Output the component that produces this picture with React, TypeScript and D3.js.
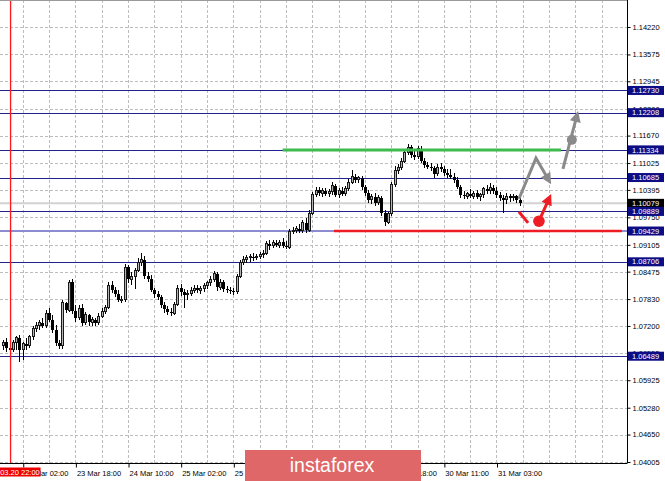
import React, { useEffect, useRef } from 'react';
import * as d3 from 'd3';

// EURUSD H1 candles, 20 Mar 2020 22:00 -> 31 Mar 2020
const firstOpen = 1.0675;

const highs = [
  1.0687, 1.0692, 1.0675, 1.0687, 1.0696, 1.0699, 1.0682, 1.0692, 1.0699, 1.0720,
  1.0729, 1.0734, 1.0739, 1.0757, 1.0762, 1.0746, 1.0722, 1.0687, 1.0781, 1.0776,
  1.0828, 1.0830, 1.0769, 1.0769, 1.0771, 1.0753, 1.0748, 1.0741, 1.0739, 1.0750,
  1.0762, 1.0769, 1.0823, 1.0826, 1.0811, 1.0804, 1.0790, 1.0866, 1.0863, 1.0847,
  1.0856, 1.0880, 1.0891, 1.0884, 1.0847, 1.0840, 1.0809, 1.0802, 1.0793, 1.0776,
  1.0767, 1.0762, 1.0776, 1.0816, 1.0819, 1.0807, 1.0804, 1.0811, 1.0816, 1.0816,
  1.0814, 1.0821, 1.0826, 1.0837, 1.0849, 1.0847, 1.0830, 1.0828, 1.0814, 1.0811,
  1.0809, 1.0842, 1.0875, 1.0884, 1.0887, 1.0889, 1.0891, 1.0889, 1.0894, 1.0898,
  1.0920, 1.0922, 1.0922, 1.0922, 1.0922, 1.0927, 1.0920, 1.0948, 1.0952, 1.0955,
  1.0959, 1.0969, 1.0974, 1.0992, 1.1035, 1.1046, 1.1046, 1.1044, 1.1044, 1.1042,
  1.1058, 1.1053, 1.1044, 1.1046, 1.1049, 1.1065, 1.1086, 1.1077, 1.1072, 1.1072,
  1.1051, 1.1039, 1.1030, 1.1032, 1.1028, 1.1025, 1.0992, 1.0988, 1.1058, 1.1096,
  1.1100, 1.1114, 1.1133, 1.1147, 1.1145, 1.1133, 1.1143, 1.1143, 1.1114, 1.1105,
  1.1103, 1.1096, 1.1100, 1.1103, 1.1096, 1.1089, 1.1089, 1.1079, 1.1070, 1.1051,
  1.1037, 1.1035, 1.1042, 1.1037, 1.1039, 1.1032, 1.1046, 1.1051, 1.1056, 1.1051,
  1.1046, 1.1035, 1.1028, 1.1032, 1.1030, 1.1030, 1.1028, 1.1023,
];

const lows = [
  1.0664, 1.0659, 1.0645, 1.0659, 1.0664, 1.0635, 1.0640, 1.0664, 1.0668, 1.0687,
  1.0706, 1.0710, 1.0715, 1.0715, 1.0729, 1.0703, 1.0673, 1.0666, 1.0666, 1.0750,
  1.0753, 1.0748, 1.0729, 1.0734, 1.0720, 1.0722, 1.0720, 1.0720, 1.0720, 1.0722,
  1.0739, 1.0748, 1.0760, 1.0797, 1.0788, 1.0776, 1.0774, 1.0776, 1.0821, 1.0816,
  1.0807, 1.0847, 1.0861, 1.0830, 1.0823, 1.0800, 1.0786, 1.0781, 1.0762, 1.0750,
  1.0746, 1.0743, 1.0746, 1.0767, 1.0790, 1.0762, 1.0781, 1.0790, 1.0797, 1.0797,
  1.0795, 1.0800, 1.0807, 1.0814, 1.0823, 1.0802, 1.0804, 1.0800, 1.0797, 1.0795,
  1.0793, 1.0795, 1.0833, 1.0863, 1.0868, 1.0870, 1.0873, 1.0875, 1.0877, 1.0880,
  1.0887, 1.0898, 1.0903, 1.0905, 1.0903, 1.0903, 1.0901, 1.0901, 1.0936, 1.0938,
  1.0938, 1.0938, 1.0938, 1.0941, 1.0981, 1.1023, 1.1025, 1.1023, 1.1025, 1.1023,
  1.1028, 1.1023, 1.1021, 1.1025, 1.1025, 1.1037, 1.1053, 1.1056, 1.1056, 1.1039,
  1.1025, 1.1009, 1.1006, 1.1002, 1.1004, 1.0978, 1.0955, 1.0960, 1.0978, 1.1046,
  1.1077, 1.1086, 1.1103, 1.1121, 1.1114, 1.1110, 1.1112, 1.1103, 1.1091, 1.1089,
  1.1084, 1.1068, 1.1072, 1.1082, 1.1072, 1.1068, 1.1065, 1.1056, 1.1042, 1.1021,
  1.1018, 1.1018, 1.1021, 1.1018, 1.1018, 1.1014, 1.1021, 1.1030, 1.1030, 1.1030,
  1.1021, 1.1014, 1.0985, 1.1006, 1.1011, 1.1014, 1.1009, 1.1002,
];

const closes = [
  1.0682, 1.0668, 1.0664, 1.0680, 1.0692, 1.0664, 1.0678, 1.0673, 1.0696, 1.0715,
  1.0722, 1.0727, 1.0720, 1.0750, 1.0734, 1.0710, 1.0680, 1.0673, 1.0774, 1.0757,
  1.0823, 1.0755, 1.0739, 1.0762, 1.0727, 1.0746, 1.0729, 1.0734, 1.0727, 1.0743,
  1.0755, 1.0764, 1.0816, 1.0804, 1.0795, 1.0781, 1.0783, 1.0858, 1.0830, 1.0837,
  1.0851, 1.0870, 1.0875, 1.0837, 1.0830, 1.0804, 1.0795, 1.0788, 1.0769, 1.0760,
  1.0753, 1.0750, 1.0771, 1.0809, 1.0800, 1.0793, 1.0797, 1.0804, 1.0809, 1.0804,
  1.0809, 1.0814, 1.0821, 1.0830, 1.0842, 1.0811, 1.0823, 1.0807, 1.0804, 1.0802,
  1.0800, 1.0837, 1.0868, 1.0877, 1.0880, 1.0882, 1.0880, 1.0884, 1.0887, 1.0891,
  1.0913, 1.0908, 1.0915, 1.0910, 1.0917, 1.0908, 1.0905, 1.0941, 1.0945, 1.0948,
  1.0943, 1.0962, 1.0945, 1.0985, 1.1028, 1.1039, 1.1032, 1.1037, 1.1030, 1.1035,
  1.1049, 1.1028, 1.1037, 1.1030, 1.1042, 1.1058, 1.1070, 1.1063, 1.1068, 1.1046,
  1.1032, 1.1016, 1.1023, 1.1009, 1.1021, 1.0985, 1.0964, 1.0983, 1.1051, 1.1086,
  1.1091, 1.1107, 1.1128, 1.1140, 1.1121, 1.1117, 1.1136, 1.1107, 1.1098, 1.1093,
  1.1091, 1.1077, 1.1093, 1.1089, 1.1079, 1.1075, 1.1070, 1.1063, 1.1046, 1.1028,
  1.1025, 1.1030, 1.1025, 1.1032, 1.1023, 1.1028, 1.1042, 1.1037, 1.1044, 1.1037,
  1.1028, 1.1021, 1.1016, 1.1025, 1.1021, 1.1025, 1.1016, 1.10079,
];

const priceTicks = [
  1.14220, 1.13575, 1.12945, 1.12300, 1.11670, 1.11025, 1.10395, 1.09750, 1.09105,
  1.08475, 1.07830, 1.07200, 1.06555, 1.05925, 1.05280, 1.04650, 1.04005,
];

const timeTickBars = [6, 22, 38, 54, 70, 86, 102, 118, 134, 150];
const timeTickLabels = [
  '23 Mar 02:00', '23 Mar 18:00', '24 Mar 10:00', '25 Mar 02:00', '25 Mar 18:00',
  '26 Mar 10:00', '27 Mar 02:00', '27 Mar 18:00', '30 Mar 11:00', '31 Mar 03:00',
];

const separatorBar = 2.3;
const separatorLabel = '2020.03.20 22:00';

const levelPrices = [1.12730, 1.12208, 1.11334, 1.10685, 1.09889, 1.08706, 1.06489];
const supportPrice = 1.09429;
const bidPrice = 1.10079;

// drawn annotations, [bar, price]
const greenLine: [number, number][] = [[85, 1.11334], [169.6, 1.11334]];
const redLine: [number, number][] = [[100.6, 1.09429], [188.1, 1.09429]];
const grayZigzag: [number, number][] = [[156.8, 1.1018], [162.0, 1.1114], [166.6, 1.1053]];
const grayUp: [number, number][] = [[170.2, 1.1089], [174.8, 1.1225]];
const grayDot: [number, number] = [172.9, 1.1157];
const redDash: [number, number][] = [[156.8, 1.0988], [159.6, 1.0962]];
const redUp: [number, number][] = [[162.9, 1.0966], [166.6, 1.1030]];
const redDot: [number, number] = [162.9, 1.0966];

export default function App() {
  const svgRef = useRef<SVGSVGElement>(null);

  useEffect(() => {
    if (!svgRef.current) return;

    const width = 665;
    const height = 481;
    const plotRight = 627;
    const plotBottom = 463;
    const font = '"Liberation Sans", Arial, sans-serif';

    d3.select(svgRef.current).selectAll('*').remove();

    const svg = d3.select(svgRef.current)
      .attr('width', width)
      .attr('height', height)
      .style('font-family', font);

    const x = d3.scaleLinear().domain([0, 157]).range([3, 3 + 3.29 * 157]);
    const y = d3.scaleLinear().domain([1.04005, 1.14220]).range([462, 27]);

    svg.append('rect').attr('width', width).attr('height', height).attr('fill', '#fff');

    // Grid
    const grid = svg.append('g')
      .attr('stroke', '#bdbdbd')
      .attr('stroke-dasharray', '3,2')
      .attr('shape-rendering', 'crispEdges');

    grid.selectAll('.hgrid')
      .data(priceTicks)
      .enter()
      .append('line')
      .attr('x1', 0)
      .attr('x2', plotRight)
      .attr('y1', d => Math.round(y(d)) + 0.5)
      .attr('y2', d => Math.round(y(d)) + 0.5);

    const gridBars = d3.range(-2, 190, 8);
    grid.selectAll('.vgrid')
      .data(gridBars)
      .enter()
      .append('line')
      .attr('x1', d => Math.round(x(d)) + 0.5)
      .attr('x2', d => Math.round(x(d)) + 0.5)
      .attr('y1', 0)
      .attr('y2', plotBottom);

    // Bid line
    svg.append('line')
      .attr('x1', 0).attr('x2', plotRight)
      .attr('y1', y(bidPrice)).attr('y2', y(bidPrice))
      .attr('stroke', '#d2d2d2')
      .attr('stroke-width', 2);

    // Levels
    svg.append('line')
      .attr('x1', 0).attr('x2', plotRight)
      .attr('y1', y(supportPrice)).attr('y2', y(supportPrice))
      .attr('stroke', '#8c8cd2')
      .attr('stroke-width', 2);

    svg.selectAll('.level')
      .data(levelPrices)
      .enter()
      .append('line')
      .attr('x1', 0)
      .attr('x2', plotRight)
      .attr('y1', d => Math.round(y(d)) + 0.5)
      .attr('y2', d => Math.round(y(d)) + 0.5)
      .attr('stroke', '#23238e')
      .attr('shape-rendering', 'crispEdges');

    // Candles
    const idx = d3.range(closes.length);
    const opens = idx.map(i => (i === 0 ? firstOpen : closes[i - 1]));
    const cx = (i: number) => Math.round(x(i)) + 0.5;
    const candles = svg.append('g').attr('shape-rendering', 'crispEdges');

    candles.selectAll('.wick')
      .data(idx)
      .enter()
      .append('line')
      .attr('x1', cx)
      .attr('x2', cx)
      .attr('y1', i => y(highs[i]))
      .attr('y2', i => y(lows[i]))
      .attr('stroke', '#000');

    candles.selectAll('.body')
      .data(idx)
      .enter()
      .append('rect')
      .attr('x', i => (closes[i] >= opens[i] ? cx(i) - 1 : cx(i) - 1.5))
      .attr('width', i => (closes[i] >= opens[i] ? 2 : 3))
      .attr('y', i => y(Math.max(opens[i], closes[i])))
      .attr('height', i => Math.max(1, Math.abs(y(opens[i]) - y(closes[i]))))
      .attr('fill', i => (closes[i] >= opens[i] ? '#b4b4b4' : '#000'))
      .attr('stroke', i => (closes[i] >= opens[i] ? '#1a1a1a' : 'none'));

    // Period separator
    svg.append('line')
      .attr('x1', x(separatorBar))
      .attr('x2', x(separatorBar))
      .attr('y1', 0).attr('y2', plotBottom)
      .attr('stroke', '#ff1a1a')
      .attr('stroke-width', 1.3);

    // Green / red horizontal marks
    const line = d3.line<[number, number]>().x(d => x(d[0])).y(d => y(d[1]));
    svg.append('path').attr('d', line(greenLine)).attr('stroke', '#3dbb4c').attr('stroke-width', 3).attr('fill', 'none');
    svg.append('path').attr('d', line(redLine)).attr('stroke', '#ee1c24').attr('stroke-width', 2.6).attr('fill', 'none');

    // Arrows
    const arrow = (pts: [number, number][], color: string) => {
      const px = pts.map(p => [x(p[0]), y(p[1])] as [number, number]);
      const [ax, ay] = px[px.length - 2];
      const [tx, ty] = px[px.length - 1];
      const len = Math.hypot(tx - ax, ty - ay);
      const ux = (tx - ax) / len;
      const uy = (ty - ay) / len;
      const head = 11;
      const half = 5.5;
      const bx = tx - ux * head;
      const by = ty - uy * head;
      const shaft = px.slice(0, -1).concat([[bx + ux, by + uy]]);
      svg.append('path')
        .attr('d', d3.line()(shaft))
        .attr('stroke', color)
        .attr('stroke-width', 3)
        .attr('fill', 'none');
      svg.append('path')
        .attr('d', `M${tx},${ty}L${bx - uy * half},${by + ux * half}L${bx + uy * half},${by - ux * half}Z`)
        .attr('fill', color);
    };

    arrow(grayZigzag, '#8a8a8a');
    arrow(grayUp, '#8a8a8a');
    svg.append('circle').attr('cx', x(grayDot[0])).attr('cy', y(grayDot[1])).attr('r', 5).attr('fill', '#8a8a8a');

    svg.append('path').attr('d', line(redDash)).attr('stroke', '#ee1c24').attr('stroke-width', 3).attr('fill', 'none');
    arrow(redUp, '#ee1c24');
    svg.append('circle').attr('cx', x(redDot[0])).attr('cy', y(redDot[1])).attr('r', 5.8).attr('fill', '#ee1c24');

    // Frame
    svg.append('line').attr('x1', 0).attr('x2', plotRight).attr('y1', 0.5).attr('y2', 0.5).attr('stroke', '#9a9a9a');
    svg.append('line').attr('x1', plotRight + 0.5).attr('x2', plotRight + 0.5).attr('y1', 0).attr('y2', plotBottom + 0.5).attr('stroke', '#000');
    svg.append('line').attr('x1', 0).attr('x2', plotRight).attr('y1', plotBottom + 0.5).attr('y2', plotBottom + 0.5).attr('stroke', '#000');

    // Price axis
    const yAxis = svg.append('g')
      .attr('transform', `translate(${plotRight + 0.5},0)`)
      .call(d3.axisRight(y).tickValues(priceTicks).tickFormat(d => (d as number).toFixed(5)).tickSize(3).tickPadding(2));
    yAxis.select('.domain').remove();
    yAxis.selectAll('line').attr('stroke', '#000');
    yAxis.selectAll('text')
      .attr('fill', '#000')
      .style('font-size', '7.5px')
      .style('font-family', font);

    // Time axis
    const xAxis = svg.append('g')
      .attr('transform', `translate(0,${plotBottom + 0.5})`)
      .call(d3.axisBottom(x).tickValues(timeTickBars).tickFormat((_, i) => timeTickLabels[i]).tickSize(4).tickPadding(3));
    xAxis.select('.domain').remove();
    xAxis.selectAll('line').attr('stroke', '#000').attr('transform', 'translate(0.5,0)');
    xAxis.selectAll('text')
      .attr('fill', '#000')
      .attr('text-anchor', 'start')
      .attr('dx', 1)
      .style('font-size', '7.5px')
      .style('font-family', font);

    // Level labels
    const tag = (price: number, bg: string) => {
      const g = svg.append('g').attr('transform', `translate(${plotRight + 1},${y(price)})`);
      g.append('rect').attr('x', 0).attr('y', -4.5).attr('width', 36).attr('height', 9).attr('fill', bg);
      g.append('text')
        .attr('x', 4)
        .attr('dy', '0.35em')
        .attr('fill', '#fff')
        .style('font-size', '7.5px')
        .text(price.toFixed(5));
    };
    tag(bidPrice, '#000');
    levelPrices.forEach(p => tag(p, '#0c0c84'));
    tag(supportPrice, '#0c0c84');

    // Separator label
    const sx = x(separatorBar);
    const sep = svg.append('g').attr('transform', `translate(${sx},${plotBottom + 9})`);
    sep.append('rect').attr('x', -30).attr('y', -4.5).attr('width', 60).attr('height', 9).attr('fill', '#ee0000');
    sep.append('text')
      .attr('text-anchor', 'middle')
      .attr('dy', '0.35em')
      .attr('fill', '#fff')
      .style('font-size', '7.5px')
      .text(separatorLabel);

    // Logo
    svg.append('rect').attr('x', 245).attr('y', 450).attr('width', 176).attr('height', 31).attr('fill', '#e06767');
    svg.append('text')
      .attr('x', 332)
      .attr('y', 472)
      .attr('text-anchor', 'middle')
      .attr('fill', '#fff')
      .style('font-size', '19.5px')
      .style('font-family', font)
      .text('instaforex');
  }, []);

  return (
    <svg ref={svgRef} style={{ position: 'absolute', left: 0, top: 0, display: 'block' }}></svg>
  );
}
